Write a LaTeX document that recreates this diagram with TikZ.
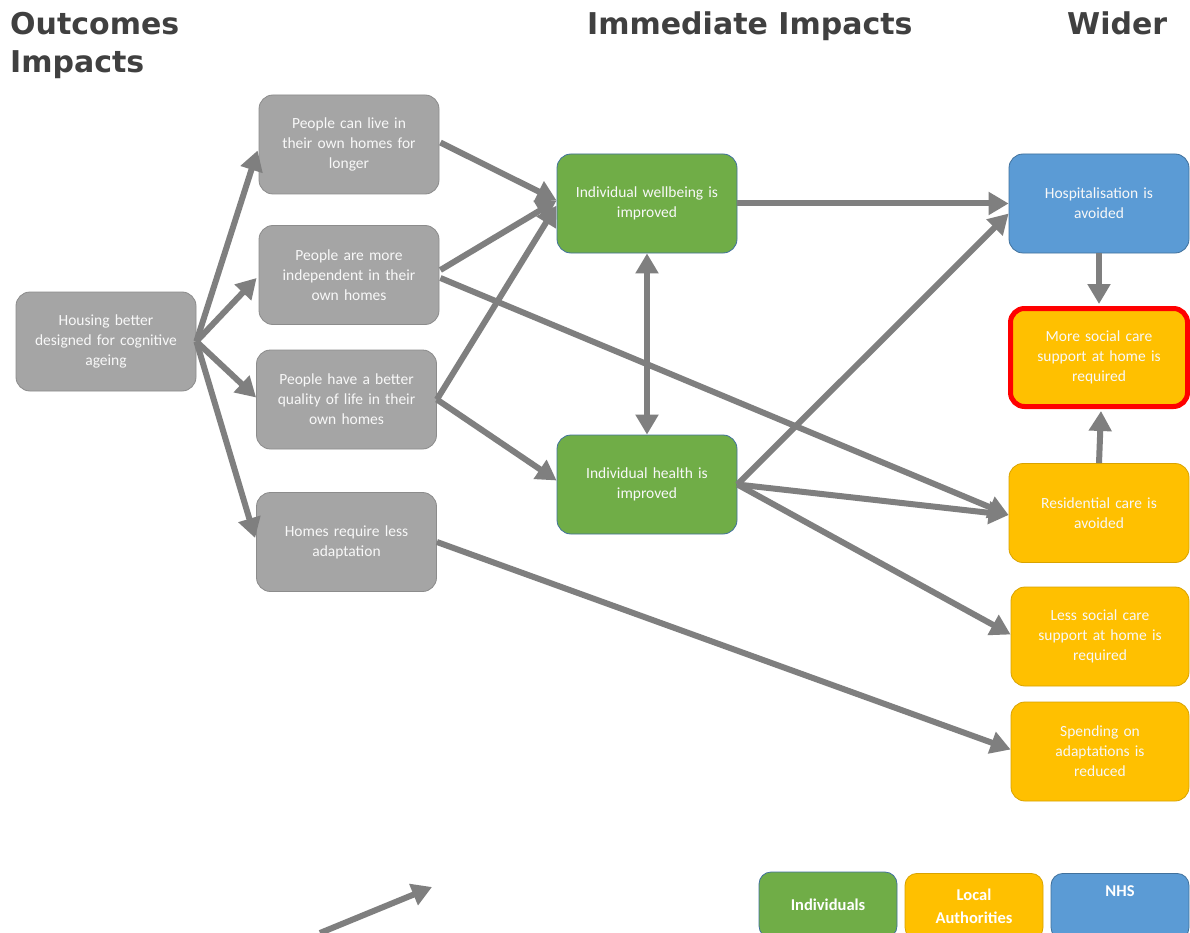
\documentclass[tikz,border=0pt]{standalone}
\usepackage{fontspec}
\setmainfont{Carlito}
\newfontfamily\headfont{DejaVu Sans}
\usetikzlibrary{arrows.meta,calc}
\definecolor{boxgray}{HTML}{A5A5A5}
\definecolor{boxgrayb}{HTML}{8C8C8C}
\definecolor{arrgray}{HTML}{7F7F7F}
\definecolor{indgreen}{HTML}{70AD47}
\definecolor{greenb}{HTML}{41719C}
\definecolor{laorange}{HTML}{FFC000}
\definecolor{orangeb}{HTML}{D9A300}
\definecolor{nhsblue}{HTML}{5B9BD5}
\definecolor{blueb}{HTML}{41719C}
\definecolor{headtxt}{HTML}{404040}
\definecolor{boxtxt}{HTML}{F8F8F8}
\tikzset{
  x=1pt, y=-1pt,
  box/.style={rectangle, rounded corners=14pt, minimum width=180pt, minimum height=99pt,
    text width=170pt, align=center, text=boxtxt, font=\fontsize{15.5}{20}\selectfont, line width=0.8pt},
  graybox/.style={box, fill=boxgray, draw=boxgrayb},
  greenbox/.style={box, fill=indgreen, draw=greenb},
  orangebox/.style={box, fill=laorange, draw=orangeb},
  bluebox/.style={box, fill=nhsblue, draw=blueb},
  legendbox/.style={rectangle, rounded corners=12pt, minimum width=138pt, minimum height=66pt,
    line width=0.8pt, font=\bfseries\fontsize{16.5}{23}\selectfont, text=white, align=center},
  heading/.style={anchor=base west, inner sep=0pt, text=headtxt, font=\headfont\bfseries\fontsize{30}{38}\selectfont},
  conn/.style={draw=arrgray, line width=6pt, -{Triangle[length=20pt,width=22pt]}},
  dconn/.style={draw=arrgray, line width=6pt, {Triangle[length=20pt,width=22pt]}-{Triangle[length=20pt,width=22pt]}},
}
\begin{document}
\begin{tikzpicture}
\clip (0,0) rectangle (1190,933);
\fill[white] (0,0) rectangle (1190,933);

% headings
\node[heading] (h1) at (10,35) {Outcomes};
\node[heading] (h2) at (10,73) {Impacts};
\node[heading] (h3) at (587,35) {Immediate Impacts};
\node[heading] (h4) at (1067,35) {Wider};

% nodes
\node[graybox] (A) at (106,341.5) {Housing better\\designed for cognitive\\ageing};
\node[graybox] (B1) at (349,144.5) {People can live in\\their own homes for\\longer};
\node[graybox] (B2) at (349,275) {People are more\\independent in their\\own homes};
\node[graybox] (B3) at (346.5,399.5) {People have a better\\quality of life in their\\own homes};
\node[graybox] (B4) at (346.5,542) {Homes require less\\adaptation};

\node[greenbox] (G1) at (647,203.5) {Individual wellbeing is\\improved};
\node[greenbox] (G2) at (647,484.5) {Individual health is\\improved};

\node[bluebox] (H) at (1099,203.5) {Hospitalisation is\\avoided};
\node[orangebox, draw=red, line width=5pt, minimum width=177pt, minimum height=98pt] (M) at (1099,357.5) {More social care\\support at home is\\required};
\node[orangebox] (R) at (1099,513) {Residential care is\\avoided};
\node[orangebox, minimum width=178pt] (L) at (1100,636.5) {Less social care\\support at home is\\required};
\node[orangebox, minimum width=178pt] (S) at (1100,751.5) {Spending on\\adaptations is\\reduced};

% legend
\node[legendbox, fill=indgreen, draw=greenb] (LG1) at (828,905) {Individuals};
\node[legendbox, fill=laorange, draw=orangeb, anchor=north] (LG2) at (974,873) {Local\\Authorities};
\node[legendbox, fill=nhsblue, draw=blueb, anchor=north] (LG3) at (1120,873) {NHS\\\strut};

% connectors
\draw[conn] (A.east) -- ($(B1.west)+(-1,6)$);
\draw[conn] (A.east) -- ($(B2.west)+(-2,3)$);
\draw[conn] (A.east) -- ($(B3.west)+(0,-2)$);
\draw[conn] (A.east) -- ($(B4.west)+(-1,-4)$);

\draw[conn] ($(B1.east)+(1,-2)$) -- ($(G1.west)+(0,-3)$);
\draw[conn] ($(B2.east)+(1,-5)$) -- ($(G1.west)+(0,-3)$);
\draw[conn] ($(B3.east)+(0,0)$) -- ($(G1.west)+(0,2)$);
\draw[conn] ($(B3.east)+(0,0)$) -- ($(G2.west)+(0,-4)$);
\draw[conn] ($(B2.east)+(1,3)$) -- ($(R.west)+(0,2)$);
\draw[conn] ($(B4.east)+(0,0)$) -- ($(S.west)+(0,-2)$);

\draw[conn] (G1.east) -- (H.west);
\draw[dconn] (G1.south) -- (G2.north);
\draw[conn] (G2.east) -- ($(H.west)+(0,10)$);
\draw[conn] (G2.east) -- ($(R.west)+(0,2)$);
\draw[conn] (G2.east) -- ($(L.west)+(0,-2)$);

\draw[conn] (H.south) -- ($(M.north)+(0,-2)$);
\draw[conn] (R.north) -- ($(M.south)+(2,2)$);

% stray arrow
\coordinate (s1) at (320,933);
\coordinate (s2) at (432,887);
\draw[conn] (s1) -- (s2);
\end{tikzpicture}
\end{document}
